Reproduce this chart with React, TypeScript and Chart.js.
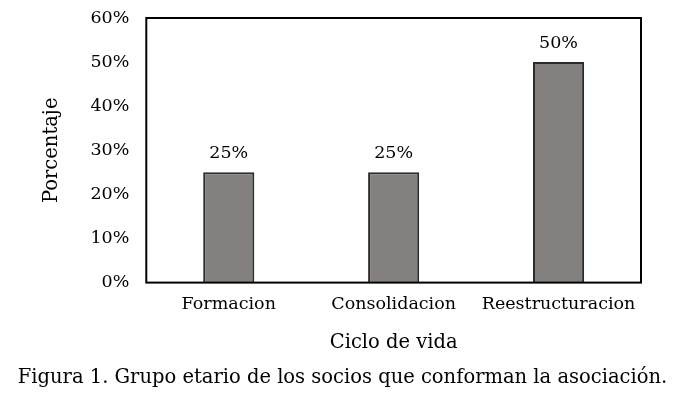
import React, { useEffect, useRef } from "react";
import { Chart, registerables } from "chart.js";

Chart.register(...registerables);

const categories = ["Formacion", "Consolidacion", "Reestructuracion"];
const values = [25, 25, 50];
const yTicks = [0, 10, 20, 30, 40, 50, 60];
const yTitle = "Porcentaje";
const xTitle = "Ciclo de vida";
const caption = "Figura 1. Grupo etario de los socios que conforman la asociación.";

const tickFont = { family: "'DejaVu Serif', serif", size: 17.5 };
const titleFont = { family: "'DejaVu Serif', serif", size: 19.5 };

const boxPlugin = {
  id: "boxPlugin",
  afterDraw(chart: any) {
    const { ctx, chartArea } = chart;
    ctx.save();
    ctx.strokeStyle = "#000";
    ctx.lineWidth = 2;
    ctx.strokeRect(chartArea.left, chartArea.top, chartArea.right - chartArea.left, chartArea.bottom - chartArea.top);
    ctx.restore();
  },
};

const labelPlugin = {
  id: "labelPlugin",
  afterDatasetsDraw(chart: any) {
    const { ctx } = chart;
    const meta = chart.getDatasetMeta(0);
    ctx.save();
    ctx.font = `${tickFont.size}px ${tickFont.family}`;
    ctx.fillStyle = "#000";
    ctx.textAlign = "center";
    ctx.textBaseline = "alphabetic";
    meta.data.forEach((el: any, i: number) => {
      ctx.fillText(values[i] + "%", el.x, el.y - 14);
    });
    ctx.restore();
  },
};

export default function App() {
  const ref = useRef<HTMLCanvasElement>(null);
  useEffect(() => {
    document.body.style.margin = "0";
    if (!ref.current) return;
    const chart = new Chart(ref.current, {
      type: "bar",
      data: {
        labels: categories,
        datasets: [
          {
            data: values,
            backgroundColor: "#83807d",
            borderColor: "#2b2b2b",
            borderWidth: 2,
            barPercentage: 0.31,
            categoryPercentage: 1,
          },
        ],
      },
      plugins: [boxPlugin, labelPlugin],
      options: {
        animation: false,
        responsive: false,
        maintainAspectRatio: false,
        layout: { padding: { left: 40, right: 44, top: 18, bottom: 41 } },
        plugins: {
          legend: { display: false },
          tooltip: { enabled: false },
          title: { display: false },
        },
        scales: {
          x: {
            grid: { display: false, drawTicks: false },
            border: { display: false },
            ticks: { color: "#000", font: tickFont, padding: 11, maxRotation: 0, autoSkip: false },
            title: { display: true, text: xTitle, color: "#000", font: titleFont, padding: { top: 6, bottom: 0 } },
          },
          y: {
            min: 0,
            max: 60,
            afterBuildTicks(scale: any) {
              scale.ticks = yTicks.map((v) => ({ value: v }));
            },
            grid: { display: true, drawOnChartArea: false, drawTicks: true, tickLength: 15, color: "rgba(0,0,0,0)" },
            border: { display: false },
            ticks: { color: "#000", font: tickFont, padding: 2, callback: (v: any) => v + "%" },
            title: { display: true, text: yTitle, color: "#000", font: titleFont, padding: { top: 0, bottom: 25 } },
          },
        },
      },
    });
    return () => chart.destroy();
  }, []);
  return (
    <div style={{ position: "relative", width: 685, height: 396, background: "#fff" }}>
      <canvas ref={ref} width={685} height={396} style={{ display: "block" }} />
      <div
        style={{
          position: "absolute",
          left: 0,
          width: 685,
          top: 366,
          height: 22,
          lineHeight: "22px",
          textAlign: "center",
          fontFamily: "'DejaVu Serif', serif",
          fontSize: 19.5,
          color: "#000",
          whiteSpace: "nowrap",
        }}
      >
        {caption}
      </div>
    </div>
  );
}
